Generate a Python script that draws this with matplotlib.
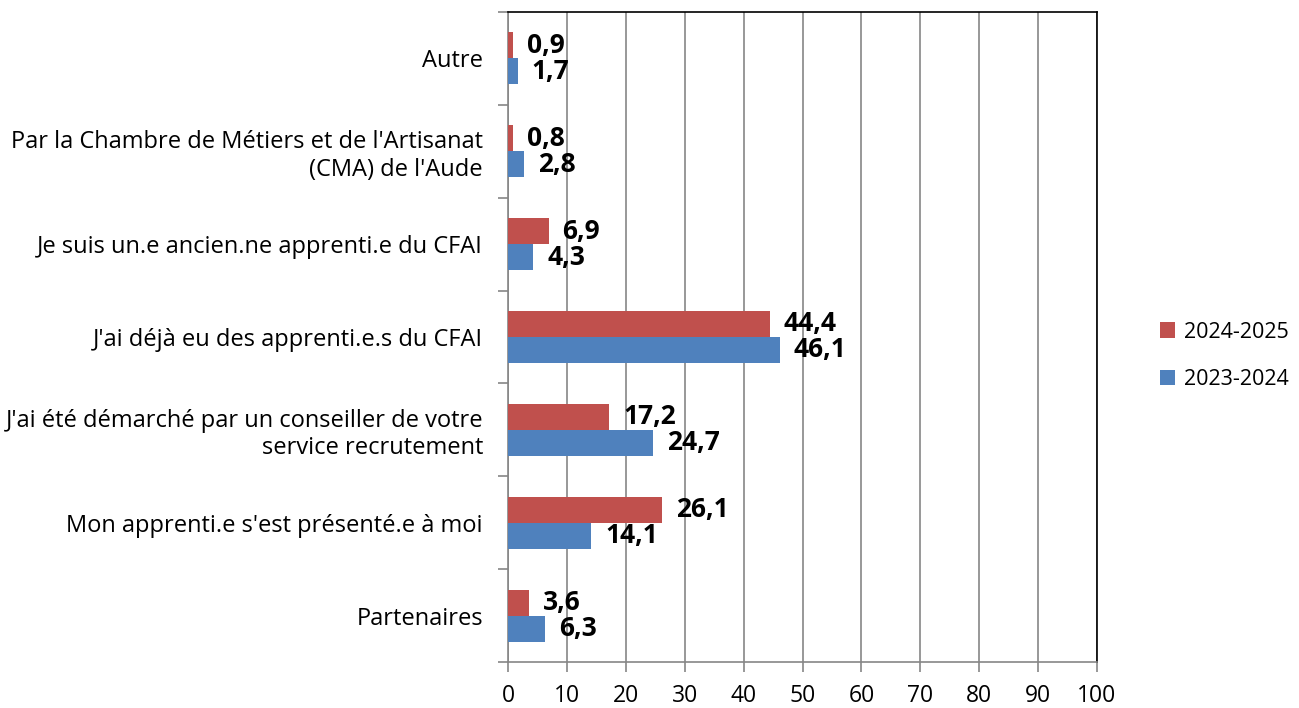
import matplotlib.pyplot as plt
import numpy as np

categories = ["Autre",
              "Par la Chambre de Métiers et de l'Artisanat\n(CMA) de l'Aude",
              "Je suis un.e ancien.ne apprenti.e du CFAI",
              "J'ai déjà eu des apprenti.e.s du CFAI",
              "J'ai été démarché par un conseiller de votre\nservice recrutement",
              "Mon apprenti.e s'est présenté.e à moi",
              "Partenaires"]
values_2425 = [0.9, 0.8, 6.9, 44.4, 17.2, 26.1, 3.6]
values_2324 = [1.7, 2.8, 4.3, 46.1, 24.7, 14.1, 6.3]
series_names = ["2024-2025", "2023-2024"]

red = "#C0504D"
blue = "#4F81BD"
grid_col = "#868686"

plt.rcParams['font.family'] = ['Open Sans', 'DejaVu Sans']

fig = plt.figure(figsize=(12.99, 7.08), dpi=100)
ax = fig.add_axes([508 / 1299, 1 - 662 / 708, 589 / 1299, 650 / 708])

y = np.arange(len(categories))
h = 0.28
b1 = ax.barh(y - h / 2, values_2425, height=h, color=red, label=series_names[0], zorder=3)
b2 = ax.barh(y + h / 2, values_2324, height=h, color=blue, label=series_names[1], zorder=3)

def fmt(v):
    return f"{v:.1f}".replace(".", ",")

for bars, vals in [(b1, values_2425), (b2, values_2324)]:
    for bar, v in zip(bars, vals):
        ax.annotate(fmt(v), (v, bar.get_y() + bar.get_height() / 2),
                    xytext=(10, 0), textcoords="offset points",
                    ha="left", va="center", fontsize=19, fontweight="bold", zorder=4)

ax.set_xlim(0, 100)
ax.set_ylim(len(categories) - 0.5, -0.5)
ax.set_xticks(np.arange(0, 101, 10))
ax.set_yticks(y)
ax.set_yticklabels(categories, fontsize=17)
ax.tick_params(axis="y", length=0, pad=18)
ax.set_yticks(np.arange(-0.5, len(categories)), minor=True)
ax.tick_params(axis="y", which="minor", length=7, color=grid_col, width=1.2)
ax.tick_params(axis="x", length=7, color=grid_col, width=1.2, labelsize=16.5, pad=9)

ax.grid(axis="x", color=grid_col, linewidth=1.2, zorder=0)
for side in ["left", "bottom"]:
    ax.spines[side].set_color(grid_col)
    ax.spines[side].set_linewidth(1.2)
for side in ["top", "right"]:
    ax.spines[side].set_color("black")
    ax.spines[side].set_linewidth(1.2)

fig.legend(handles=[b1, b2], loc="center left", bbox_to_anchor=(1141 / 1299, 1 - 356 / 708),
           frameon=False, fontsize=15.5, handlelength=0.7, handleheight=0.7,
           handletextpad=0.4, labelspacing=1.25)

fig.savefig("out.png", dpi=100)
